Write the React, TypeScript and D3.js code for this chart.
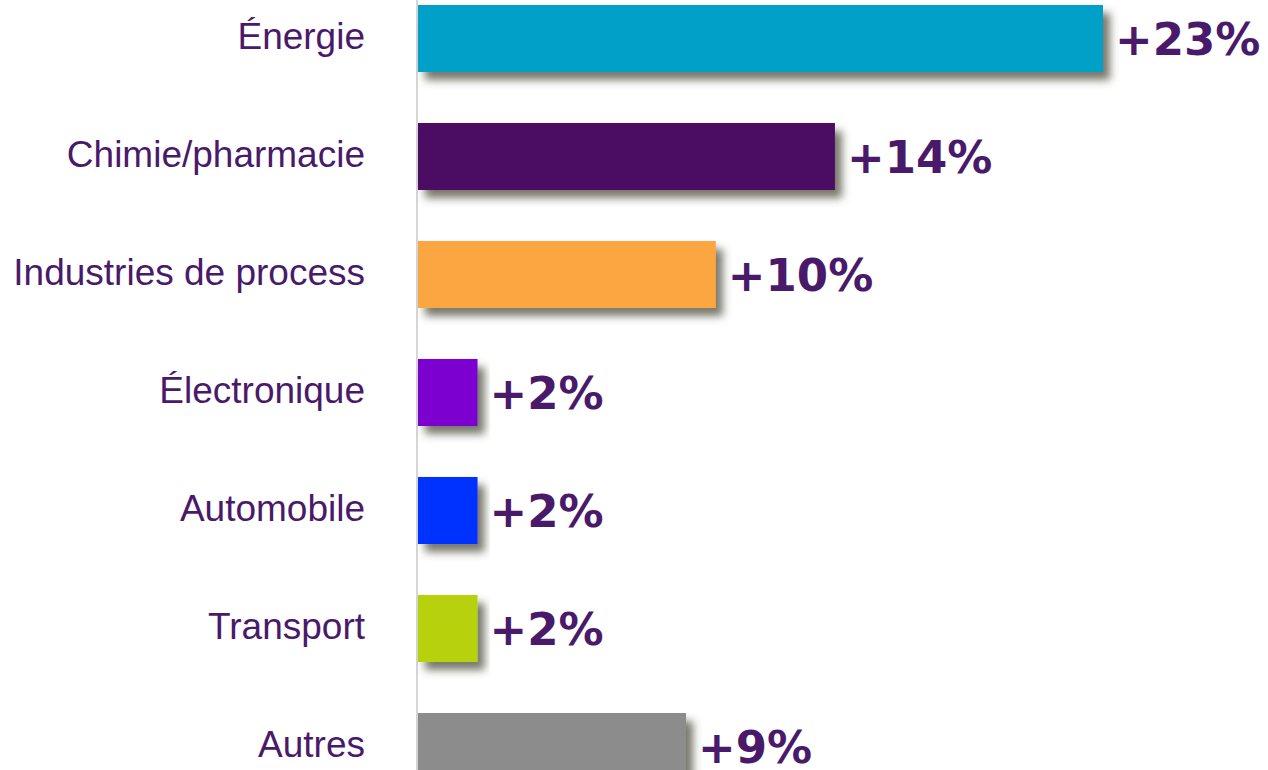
import React from "react";
import * as d3 from "d3";

const categories = ["Énergie", "Chimie/pharmacie", "Industries de process", "Électronique", "Automobile", "Transport", "Autres"];
const values = [23, 14, 10, 2, 2, 2, 9];
const valueLabels = ["+23%", "+14%", "+10%", "+2%", "+2%", "+2%", "+9%"];
const colors = ["#01a0c8", "#4b0f63", "#fba63f", "#7b06d0", "#0433ff", "#b8d10c", "#8c8c8c"];

const W = 1268;
const H = 770;
const TEXT = "#4a1a6a";

export default function App() {
  const x = d3.scaleLinear().domain([0, 23]).range([418, 1103]);
  const y = d3
    .scaleBand<string>()
    .domain(categories)
    .range([-20.5, 805.5])
    .paddingInner(0.432)
    .paddingOuter(0.216);

  return (
    <svg
      width={W}
      height={H}
      style={{ position: "absolute", left: 0, top: 0, display: "block", background: "#fff" }}
    >
      <defs>
        <filter id="shadow" x="-10%" y="-30%" width="130%" height="180%">
          <feDropShadow dx="7" dy="8" stdDeviation="4" floodColor="#4a4a3a" floodOpacity="0.75" />
        </filter>
      </defs>
      <line x1={417} x2={417} y1={0} y2={H} stroke="#c8c8c8" strokeWidth={1.5} />
      {categories.map((c, i) => {
        const y0 = y(c)!;
        const bw = y.bandwidth();
        const cy = y0 + bw / 2;
        return (
          <g key={c}>
            <rect
              x={x(0)}
              y={y0}
              width={x(values[i]) - x(0)}
              height={bw}
              fill={colors[i]}
              filter="url(#shadow)"
            />
            <text
              x={365}
              y={cy - 2}
              textAnchor="end"
              dominantBaseline="central"
              fontFamily="'Liberation Sans', Arial, sans-serif"
              fontSize={37}
              fill={TEXT}
            >
              {c}
            </text>
            <text
              x={x(values[i]) + 12}
              y={cy + 1}
              textAnchor="start"
              dominantBaseline="central"
              fontFamily="'DejaVu Sans', Verdana, sans-serif"
              fontWeight="bold"
              fontSize={45}
              fill={TEXT}
            >
              {valueLabels[i]}
            </text>
          </g>
        );
      })}
    </svg>
  );
}
